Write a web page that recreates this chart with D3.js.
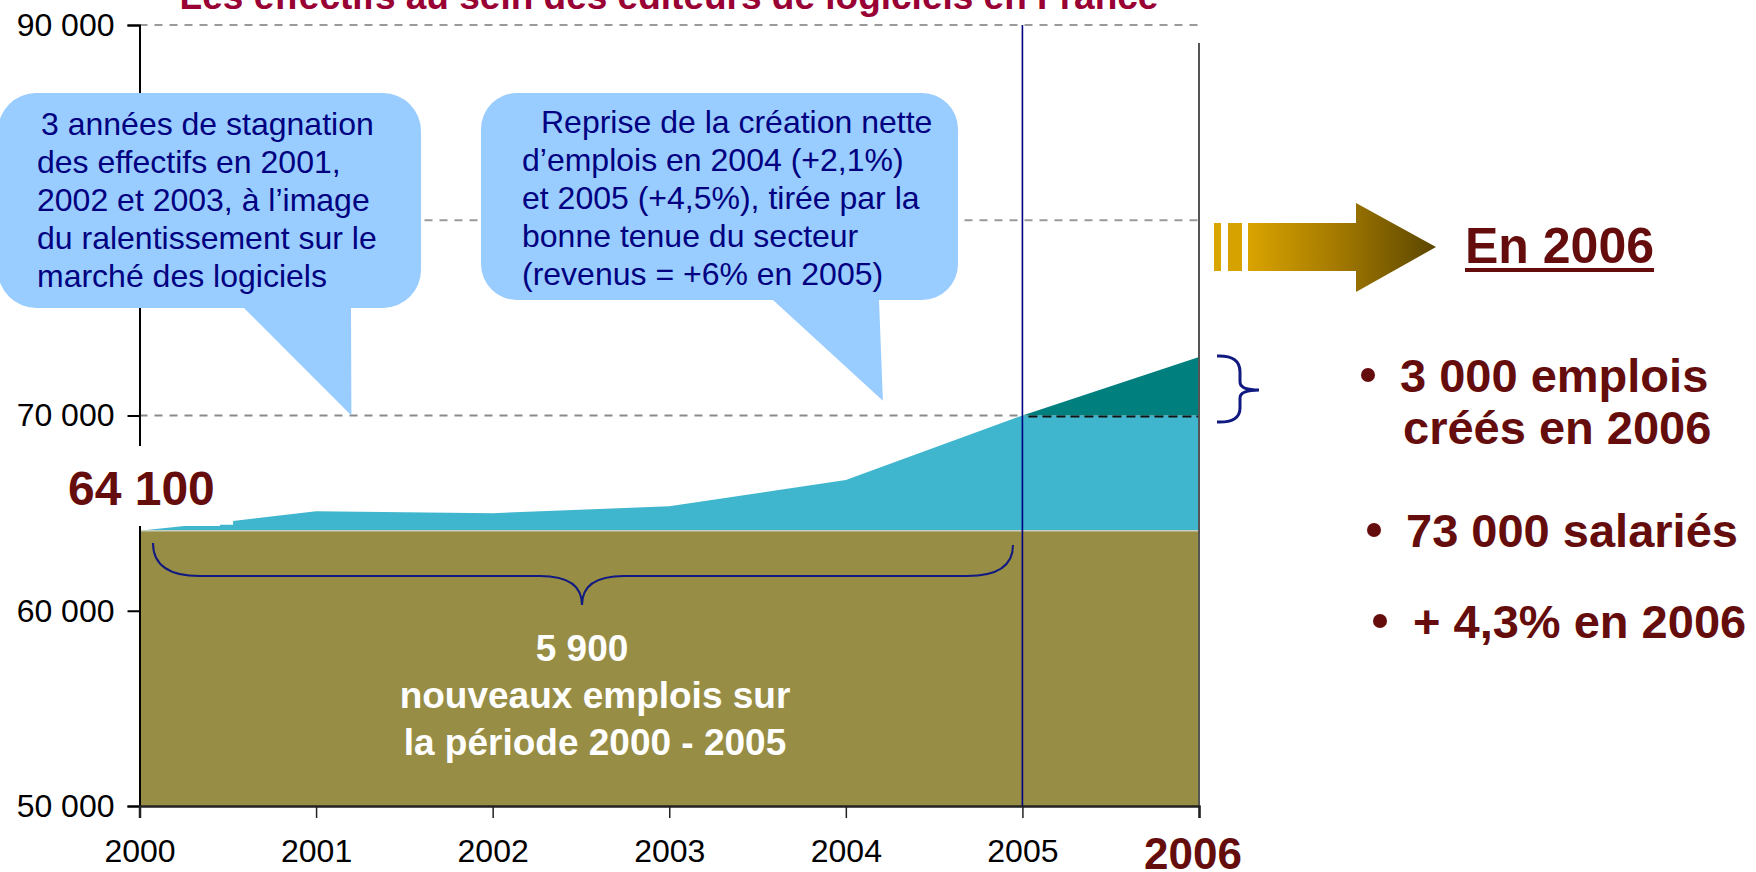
<!DOCTYPE html>
<html>
<head>
<meta charset="utf-8">
<script src="https://cdn.jsdelivr.net/npm/d3@7"></script>
<style>
  html, body { margin: 0; padding: 0; background: #ffffff; }
  svg { display: block; }
  text { font-family: "Liberation Sans", Arial, Helvetica, sans-serif; }
</style>
</head>
<body>
<svg id="chart" width="1756" height="872"></svg>
<script>
// ---------------- DATA ----------------
const title = "Les effectifs au sein des éditeurs de logiciels en France";
const yearTicks = [2000, 2001, 2002, 2003, 2004, 2005];
const highlightYear = 2006;
const valueTicks = [50000, 60000, 70000, 80000, 90000];
const hiddenTickLabels = [80000]; // covered by the first callout in the original
// Effectifs (top of the area), 2000 - 2005
const seriesYears  = [2000, 2000.32, 2000.53, 2000.53, 2001, 2002, 2003, 2004, 2005];
const seriesValues = [64100, 64400, 64400, 64600, 65100, 65000, 65350, 66700, 70000];
const base2000 = 64100;
const level2005 = 70000;
const level2006 = 73000;
const callout1Lines = ["3 années de stagnation", "des effectifs en 2001,", "2002 et 2003, à l’image", "du ralentissement sur le", "marché des logiciels"];
const callout2Lines = ["Reprise de la création nette", "d’emplois en 2004 (+2,1%)", "et 2005 (+4,5%), tirée par la", "bonne tenue du secteur", "(revenus = +6% en 2005)"];
const braceLines = ["5 900", "nouveaux emplois sur", "la période 2000 - 2005"];
const headline = "En 2006";
const bullets = [["3 000 emplois", "créés en 2006"], ["73 000 salariés"], ["+ 4,3% en 2006"]];

// ---------------- SETUP ----------------
const svg = d3.select("#chart");
const x = d3.scaleLinear().domain([2000, 2006]).range([139.5, 1199]);
const y = d3.scaleLinear().domain([50000, 90000]).range([806, 25]);
const fmt = v => d3.format(",")(v).replace(/,/g, " ");

const OLIVE = "#978D45", CYAN = "#3FB6CD", TEAL = "#007F7F";
const BLUEBOX = "#99CCFF", NAVY = "#000080", DARKRED = "#650D0D", CRIMSON = "#990033";

// Title (partly cut off at top, as in the original)
svg.append("text").attr("x", 669).attr("y", 9).attr("text-anchor", "middle")
  .attr("font-size", 37).attr("font-weight", "bold").attr("fill", CRIMSON).text(title);

// Gridlines (dashed)
const grid = svg.append("g");
[90000, 80000].forEach(v => {
  grid.append("line").attr("x1", x(2000)).attr("x2", x(2006) + 1)
    .attr("y1", y(v)).attr("y2", y(v))
    .attr("stroke", "#9a9a9a").attr("stroke-width", 2).attr("stroke-dasharray", "8,7");
});
grid.append("line").attr("x1", x(2000)).attr("x2", x(2005))
  .attr("y1", y(70000)).attr("y2", y(70000))
  .attr("stroke", "#8a8a8a").attr("stroke-width", 2).attr("stroke-dasharray", "8,7");

// Areas
const pts = seriesYears.map((yr, i) => [yr, seriesValues[i]]);
const cyanPts = pts.concat([[2006, level2005]]);
const area = d3.area().x(d => x(d[0])).y0(y(base2000)).y1(d => y(d[1]));
svg.append("path").datum(cyanPts).attr("d", area).attr("fill", CYAN);

const teal = d3.area().x(d => x(d[0])).y0(y(level2005)).y1(d => y(d[1]));
svg.append("path").datum([[2005, level2005], [2006, level2006]]).attr("d", teal).attr("fill", TEAL);

const olive = d3.area().x(d => x(d[0])).y0(y(50000)).y1(d => y(d[1]));
svg.append("path").datum([[2000, base2000], [2006, base2000]]).attr("d", olive).attr("fill", OLIVE);
svg.append("line").attr("x1", x(2000)).attr("x2", x(2006)).attr("y1", y(base2000)).attr("y2", y(base2000))
  .attr("stroke", "#c9cfbf").attr("stroke-width", 1.5);

// dashed black line at 70 000 for 2006
svg.append("line").attr("x1", x(2005) + 6).attr("x2", x(2006))
  .attr("y1", y(level2005) + 1).attr("y2", y(level2005) + 1)
  .attr("stroke", "#111").attr("stroke-width", 2).attr("stroke-dasharray", "9,5");

// Right border at 2006
svg.append("line").attr("x1", x(2006)).attr("x2", x(2006)).attr("y1", 43).attr("y2", y(50000))
  .attr("stroke", "#555").attr("stroke-width", 2);

// Navy line at 2005
svg.append("line").attr("x1", x(2005)).attr("x2", x(2005)).attr("y1", y(90000)).attr("y2", y(50000))
  .attr("stroke", NAVY).attr("stroke-width", 1.6);

// Y axis
const yAxis = d3.axisLeft(y).tickValues(valueTicks).tickSize(12).tickPadding(13)
  .tickFormat(v => hiddenTickLabels.includes(v) ? "" : fmt(v));
const gy = svg.append("g").attr("transform", `translate(${x(2000)},0)`).call(yAxis);
gy.select(".domain").attr("stroke", "#000").attr("stroke-width", 2);
gy.selectAll(".tick line").attr("stroke", "#000").attr("stroke-width", 2);
gy.selectAll(".tick text").attr("font-size", 32).attr("fill", "#000")
  .attr("font-family", '"Liberation Sans", Arial, sans-serif');

// X axis
const xAxis = d3.axisBottom(x).tickValues(yearTicks.concat([highlightYear])).tickSize(12).tickPadding(21)
  .tickFormat(d => d === highlightYear ? "" : String(d));
const gx = svg.append("g").attr("transform", `translate(0,${y(50000)})`).call(xAxis);
gx.select(".domain").attr("stroke", "#222").attr("stroke-width", 2.5);
gx.selectAll(".tick line").attr("stroke", "#222").attr("stroke-width", 1.5);
gx.selectAll(".tick text").attr("font-size", 32).attr("fill", "#000")
  .attr("font-family", '"Liberation Sans", Arial, sans-serif');
svg.append("text").attr("x", x(highlightYear) - 6).attr("y", 869).attr("text-anchor", "middle")
  .attr("font-size", 44).attr("font-weight", "bold").attr("fill", DARKRED).text(String(highlightYear));

// "64 100" label with white box covering axis
svg.append("rect").attr("x", 60).attr("y", 446).attr("width", 160).attr("height", 80).attr("fill", "#fff");
svg.append("text").attr("x", 68).attr("y", 505).attr("font-size", 48).attr("font-weight", "bold")
  .attr("fill", DARKRED).text(fmt(base2000));

// Callouts
function callout(bx, by, bw, bh, r, t1, t2, tip) {
  const p = d3.path();
  p.moveTo(bx + r, by);
  p.lineTo(bx + bw - r, by);
  p.arcTo(bx + bw, by, bx + bw, by + r, r);
  p.lineTo(bx + bw, by + bh - r);
  p.arcTo(bx + bw, by + bh, bx + bw - r, by + bh, r);
  p.lineTo(t2, by + bh);
  p.lineTo(tip[0], tip[1]);
  p.lineTo(t1, by + bh);
  p.lineTo(bx + r, by + bh);
  p.arcTo(bx, by + bh, bx, by + bh - r, r);
  p.lineTo(bx, by + r);
  p.arcTo(bx, by, bx + r, by, r);
  p.closePath();
  svg.append("path").attr("d", p.toString()).attr("fill", BLUEBOX);
}
callout(-2, 93, 423, 215, 38, 244, 351, [x(2001.2), y(70000)]);
callout(481, 93, 477, 207, 36, 773, 879, [x(2004.21), y(70750)]);

function lines(arr, x0, firstIndent, base, step) {
  arr.forEach((t, i) => {
    svg.append("text").attr("x", x0 + (i === 0 ? firstIndent : 0)).attr("y", base + i * step)
      .attr("font-size", 32).attr("fill", NAVY).text(t);
  });
}
lines(callout1Lines, 37, 4, 135, 38);
lines(callout2Lines, 522, 19, 133, 38);

// Big brace under the period 2000-2005
const bp = d3.path();
bp.moveTo(153, 543);
bp.quadraticCurveTo(153, 576, 200, 576);
bp.lineTo(540, 576);
bp.quadraticCurveTo(582, 576, 582, 605);
bp.quadraticCurveTo(582, 576, 624, 576);
bp.lineTo(967, 576);
bp.quadraticCurveTo(1013, 576, 1013, 545);
svg.append("path").attr("d", bp.toString()).attr("fill", "none").attr("stroke", "#101a80").attr("stroke-width", 2);

braceLines.forEach((t, i) => {
  svg.append("text").attr("x", i === 0 ? 582 : 595).attr("y", 661 + i * 47).attr("text-anchor", "middle")
    .attr("font-size", 37).attr("font-weight", "bold").attr("fill", "#fff").text(t);
});

// Small brace for 2006
const sp = d3.path();
sp.moveTo(1217, 356);
sp.quadraticCurveTo(1240, 355, 1240, 372);
sp.lineTo(1240, 382);
sp.quadraticCurveTo(1240, 390, 1259, 390);
sp.quadraticCurveTo(1240, 390, 1240, 398);
sp.lineTo(1240, 408);
sp.quadraticCurveTo(1240, 423, 1217, 422);
svg.append("path").attr("d", sp.toString()).attr("fill", "none").attr("stroke", "#101a80").attr("stroke-width", 3);

// Arrow
const defs = svg.append("defs");
const grad = defs.append("linearGradient").attr("id", "arrowGrad")
  .attr("gradientUnits", "userSpaceOnUse").attr("x1", 1249).attr("x2", 1437).attr("y1", 0).attr("y2", 0);
grad.append("stop").attr("offset", 0).attr("stop-color", "#D9A300");
grad.append("stop").attr("offset", 0.45).attr("stop-color", "#A67B00");
grad.append("stop").attr("offset", 1).attr("stop-color", "#5A4600");
svg.append("rect").attr("x", 1214).attr("y", 223).attr("width", 7).attr("height", 48).attr("fill", "#D9A500");
svg.append("rect").attr("x", 1228).attr("y", 223).attr("width", 14).attr("height", 48).attr("fill", "#D6A200");
svg.append("path")
  .attr("d", "M1248,223 L1356,223 L1356,203 L1436,247 L1356,292 L1356,271 L1248,271 Z")
  .attr("fill", "url(#arrowGrad)");

// Headline + bullets
const hl = svg.append("text").attr("x", 1465).attr("y", 263).attr("font-size", 50).attr("font-weight", "bold")
  .attr("fill", DARKRED).text(headline);
const hw = hl.node().getComputedTextLength();
svg.append("rect").attr("x", 1465).attr("y", 268).attr("width", hw).attr("height", 4).attr("fill", DARKRED);

const bulletPos = [[1368, 1400, 392, 52], [1374, 1406, 547, 0], [1380, 1413, 638, 0]];
bullets.forEach((b, i) => {
  const [bx, tx, base, step] = bulletPos[i];
  svg.append("circle").attr("cx", bx).attr("cy", base - 17).attr("r", 7).attr("fill", DARKRED);
  b.forEach((t, j) => {
    svg.append("text").attr("x", tx + (j > 0 ? 3 : 0)).attr("y", base + j * step).attr("font-size", 47)
      .attr("font-weight", "bold").attr("fill", DARKRED).text(t);
  });
});
</script>
</body>
</html>
